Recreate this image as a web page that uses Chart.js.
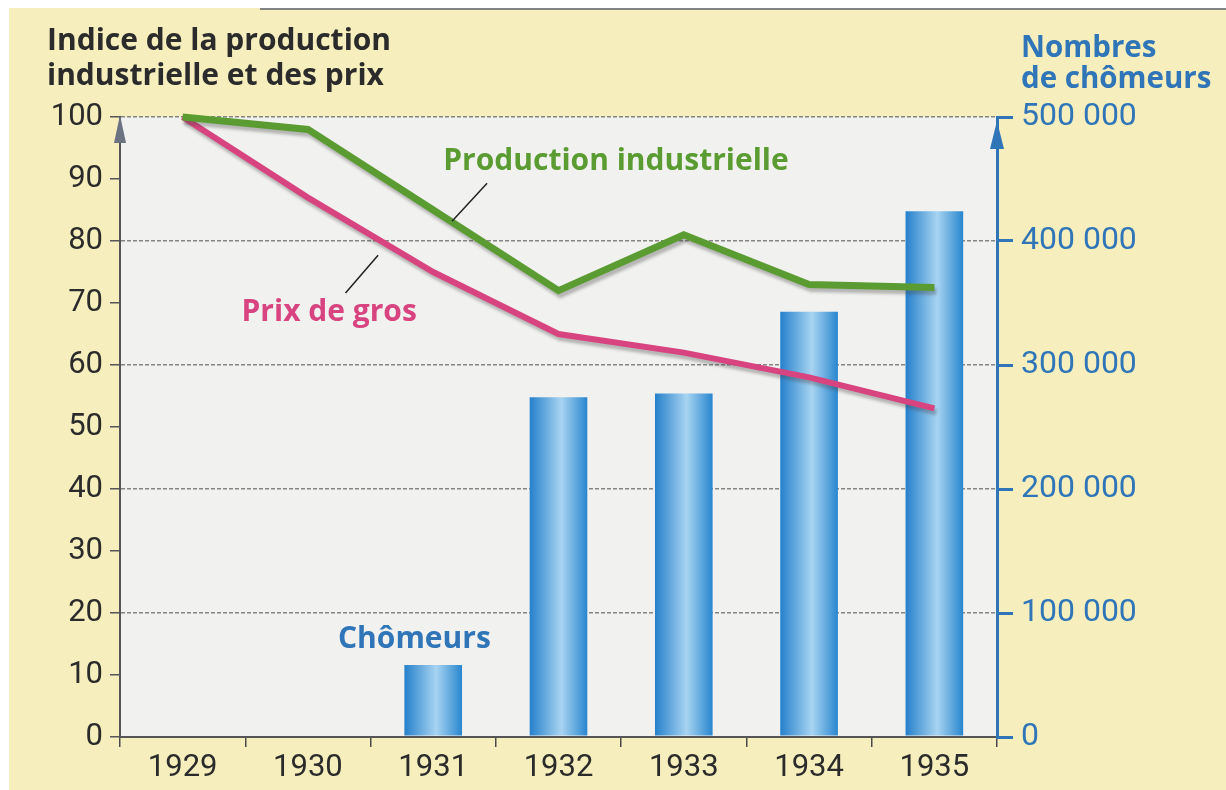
<!DOCTYPE html>
<html>
<head>
<meta charset="utf-8">
<script src="https://cdn.jsdelivr.net/npm/chart.js@4"></script>
<style>
  html, body { margin: 0; padding: 0; background: #fff; }
</style>
</head>
<body>
<canvas id="chart" width="1226" height="790"></canvas>
<script>
// Données
const annees = ['1929', '1930', '1931', '1932', '1933', '1934', '1935'];
const productionIndustrielle = [100, 98, 85, 72, 81, 73, 72.5];
const prixDeGros = [100, 87, 75, 65, 62, 58, 53];
const chomeurs = [null, null, 58000, 274000, 277000, 343000, 424000];

const ticksIndice = [0, 10, 20, 30, 40, 50, 60, 70, 80, 90, 100];
const ticksChomeurs = [0, 100000, 200000, 300000, 400000, 500000];

const POLICE = 'Roboto, "DejaVu Sans", sans-serif';
const POLICE_TITRE = '"Open Sans", Roboto, sans-serif';
const BLEU = '#2f75b8';
const VERT = '#5b9c32';
const ROSE = '#d8447f';
const GRIS = '#2b2b2b';

const numberWithSpaces = (x) => {
  return x.toString().replace(/\B(?=(\d{3})+(?!\d))/g, " ");
}

const degradeBarre = (c) => {
  const chart = c.chart;
  if (!chart.chartArea || c.type !== 'data') return '#3a93d6';
  const x = chart.scales.x;
  const centre = x.getPixelForValue(c.dataIndex);
  const demi = x.width / annees.length * 0.46 / 2;
  const g = chart.ctx.createLinearGradient(centre - demi, 0, centre + demi, 0);
  g.addColorStop(0, '#2580cb');
  g.addColorStop(0.55, '#a8d4f1');
  g.addColorStop(1, '#2886cf');
  return g;
};

// fond papier + zone de tracé
const fondPapier = {
  id: 'fondPapier',
  beforeDraw(chart) {
    const { ctx, chartArea: a } = chart;
    ctx.save();
    ctx.fillStyle = '#ffffff';
    ctx.fillRect(0, 0, chart.width, chart.height);
    ctx.fillStyle = '#f6eebc';
    ctx.fillRect(9, 8, chart.width - 9, chart.height - 8);
    ctx.strokeStyle = '#5a6070';
    ctx.lineWidth = 1.5;
    ctx.beginPath();
    ctx.moveTo(260, 9);
    ctx.lineTo(chart.width, 9);
    ctx.stroke();
    ctx.fillStyle = '#f1f1ef';
    ctx.fillRect(a.left, a.top, a.right - a.left, a.bottom - a.top);
    ctx.restore();
  }
};

// ombre sous les courbes
const ombreLignes = {
  id: 'ombreLignes',
  beforeDatasetDraw(chart, args) {
    if (chart.data.datasets[args.index].type !== 'line') return;
    const ctx = chart.ctx;
    ctx.save();
    ctx.shadowColor = 'rgba(70,70,70,0.35)';
    ctx.shadowOffsetX = 2;
    ctx.shadowOffsetY = 4;
    ctx.shadowBlur = 3;
  },
  afterDatasetDraw(chart, args) {
    if (chart.data.datasets[args.index].type !== 'line') return;
    chart.ctx.restore();
  }
};

// titres, flèches des axes, étiquettes des séries
const habillage = {
  id: 'habillage',
  afterDraw(chart) {
    const { ctx, chartArea: a, scales } = chart;
    const px = (i) => scales.x.getPixelForValue(i);
    const py = (v) => scales.y.getPixelForValue(v);

    ctx.save();
    // flèches
    ctx.fillStyle = '#6b7282';
    ctx.beginPath();
    ctx.moveTo(a.left, a.top - 2);
    ctx.lineTo(a.left - 6, a.top + 26);
    ctx.lineTo(a.left + 6, a.top + 26);
    ctx.closePath();
    ctx.fill();

    ctx.fillStyle = BLEU;
    ctx.beginPath();
    ctx.moveTo(a.right, a.top + 4);
    ctx.lineTo(a.right - 7, a.top + 32);
    ctx.lineTo(a.right + 7, a.top + 32);
    ctx.closePath();
    ctx.fill();

    // titres des axes
    ctx.textAlign = 'left';
    ctx.textBaseline = 'alphabetic';
    ctx.fillStyle = GRIS;
    ctx.font = 'bold 30px ' + POLICE_TITRE;
    ctx.fillText('Indice de la production', 47, 50);
    ctx.fillText('industrielle et des prix', 47, 85);

    ctx.fillStyle = BLEU;
    ctx.font = 'bold 29.5px ' + POLICE_TITRE;
    ctx.fillText('Nombres', 1021, 57);
    ctx.fillText('de chômeurs', 1021, 88);

    // étiquettes des séries
    ctx.textBaseline = 'alphabetic';
    ctx.font = 'bold 30px ' + POLICE_TITRE;
    ctx.fillStyle = VERT;
    ctx.fillText('Production industrielle', px(2.08), py(91.4));
    ctx.fillStyle = ROSE;
    ctx.fillText('Prix de gros', px(0.47), py(67.1));
    ctx.fillStyle = BLEU;
    ctx.fillText('Chômeurs', px(1.24), py(14.4));

    // traits de rappel
    ctx.strokeStyle = '#222';
    ctx.lineWidth = 1.5;
    ctx.beginPath();
    ctx.moveTo(px(2.43), py(89.3));
    ctx.lineTo(px(2.15), py(83.2));
    ctx.moveTo(px(1.30), py(71.6));
    ctx.lineTo(px(1.56), py(77.7));
    ctx.stroke();
    ctx.restore();
  }
};

const chartIndice = document.getElementById("chart").getContext("2d");
new Chart(chartIndice, {
  type: 'bar',
  data: {
    labels: annees,
    datasets: [
      {
        type: 'line',
        label: 'Production industrielle',
        data: productionIndustrielle,
        yAxisID: 'y',
        borderColor: VERT,
        borderWidth: 7,
        pointRadius: 0,
        tension: 0,
        fill: false,
        clip: 10,
        order: 1
      },
      {
        type: 'line',
        label: 'Prix de gros',
        data: prixDeGros,
        yAxisID: 'y',
        borderColor: ROSE,
        borderWidth: 6,
        pointRadius: 0,
        tension: 0,
        fill: false,
        clip: 10,
        order: 2
      },
      {
        type: 'bar',
        label: 'Chômeurs',
        data: chomeurs,
        yAxisID: 'y2',
        backgroundColor: degradeBarre,
        borderWidth: 0,
        categoryPercentage: 1,
        barPercentage: 0.46,
        order: 3
      }
    ]
  },
  options: {
    responsive: false,
    animation: false,
    devicePixelRatio: 1,
    layout: { padding: { top: 117, left: 0, right: 0, bottom: 0 } },
    plugins: {
      legend: { display: false },
      tooltip: { enabled: false }
    },
    scales: {
      x: {
        offset: true,
        grid: { offset: true, drawOnChartArea: false, color: '#4a4a4a', tickLength: 10, lineWidth: 1.5 },
        border: { color: '#555', width: 2 },
        ticks: { color: GRIS, font: { family: POLICE, size: 31 }, padding: 3, maxRotation: 0 },
        afterFit: (s) => { s.height = 53; }
      },
      y: {
        position: 'left',
        min: 0,
        max: 100,
        afterBuildTicks: (s) => { s.ticks = ticksIndice.map(v => ({ value: v })); },
        grid: {
          color: (c) => (c.tick && c.tick.value % 20 === 0 && c.tick.value > 0) ? '#858585' : 'rgba(0,0,0,0)',
          lineWidth: 1.5,
          tickColor: '#555',
          tickLength: 10
        },
        border: { color: '#555', width: 2, dash: [4, 2] },
        ticks: { color: GRIS, font: { family: POLICE, size: 31 }, padding: 7 },
        afterFit: (s) => { s.width = 120; }
      },
      y2: {
        position: 'right',
        min: 0,
        max: 500000,
        afterBuildTicks: (s) => { s.ticks = ticksChomeurs.map(v => ({ value: v })); },
        grid: { drawOnChartArea: false, tickColor: BLEU, tickLength: 16, lineWidth: 3 },
        border: { color: BLEU, width: 3 },
        ticks: {
          color: BLEU,
          font: { family: POLICE, size: 32 },
          padding: 8,
          callback: (v) => numberWithSpaces(v)
        },
        afterFit: (s) => { s.width = 229; }
      }
    }
  },
  plugins: [fondPapier, ombreLignes, habillage]
});
</script>
</body>
</html>
